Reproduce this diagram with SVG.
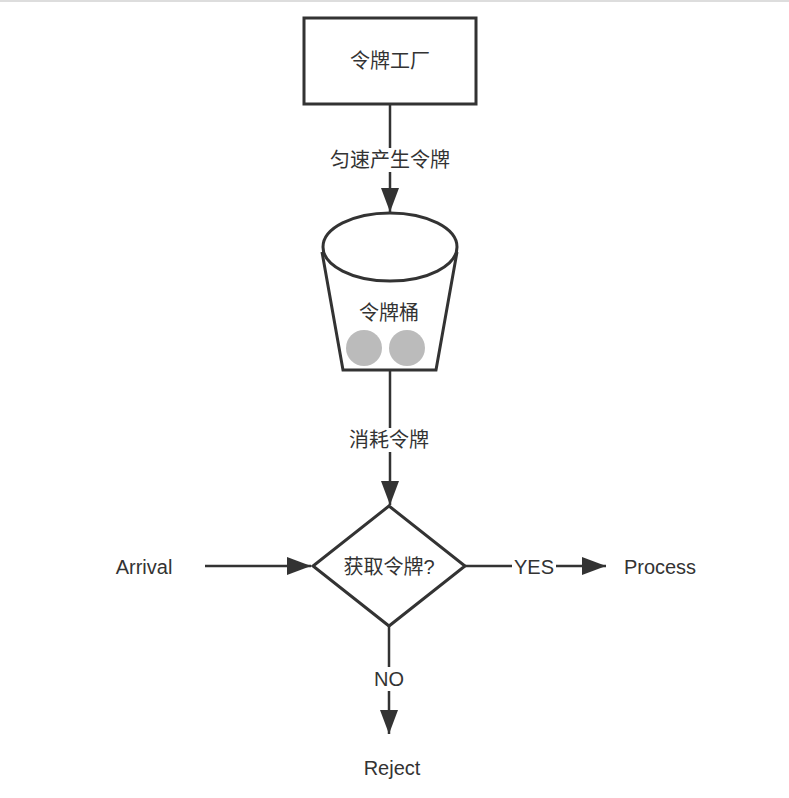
<svg xmlns="http://www.w3.org/2000/svg" width="789" height="798" viewBox="0 0 789 798">
<style>
.s{fill:none;stroke:#333;stroke-width:3}
.t{font-family:"Liberation Sans","Noto Sans CJK SC",sans-serif;font-size:20px;fill:#333;text-anchor:middle;dominant-baseline:central}
.l{fill:none;stroke:#333;stroke-width:2.5}
</style>
<defs><marker id="a" markerWidth="10" markerHeight="10" refX="9" refY="5" orient="auto" markerUnits="userSpaceOnUse" viewBox="0 0 10 10"><path d="M0,0 L10,5 L0,10 Z" fill="#333"/></marker>
<marker id="b" viewBox="0 0 24 18" refX="24" refY="9" markerWidth="24" markerHeight="18" orient="auto" markerUnits="userSpaceOnUse"><path d="M0,0 L24,9 L0,18 Z" fill="#333"/></marker></defs>
<rect width="789" height="798" fill="#fff"/>
<line x1="0" y1="1" x2="789" y2="1" stroke="#ddd" stroke-width="2"/>
<g id="connectors">
<line class="l" x1="390" y1="104" x2="390" y2="212" marker-end="url(#b)"/>
<rect x="332" y="148" width="116" height="24" fill="#fff"/>
<text class="t" x="390" y="160">匀速产生令牌</text>
<line class="l" x1="390" y1="370" x2="390" y2="505" marker-end="url(#b)"/>
<rect x="340" y="428" width="100" height="24" fill="#fff"/>
<text class="t" x="389" y="440">消耗令牌</text>
<line class="l" x1="205" y1="566" x2="311" y2="566" marker-end="url(#b)"/>
<line class="l" x1="465" y1="566" x2="512" y2="566"/>
<text class="t" x="534" y="567">YES</text>
<line class="l" x1="556" y1="566" x2="606" y2="566" marker-end="url(#b)"/>
<line class="l" x1="389" y1="626" x2="389" y2="734" marker-end="url(#b)"/>
<rect x="370" y="667" width="38" height="24" fill="#fff"/>
<text class="t" x="389" y="679">NO</text>
</g>
<g id="factory"><rect class="s" x="304" y="18" width="172" height="86"/><text class="t" x="390" y="61">令牌工厂</text></g>
<g id="bucket">
<path class="s" d="M322,252 L343,370 L436,370 L457,252"/>
<ellipse class="s" cx="390" cy="247" rx="67" ry="34" fill="#fff"/>
<text class="t" x="389" y="313">令牌桶</text>
<circle cx="364" cy="348" r="18" fill="#bbb"/>
<circle cx="407" cy="348" r="18" fill="#bbb"/>
</g>
<g id="decision"><path class="s" d="M389,506 L465,566 L389,626 L313,566 Z" fill="#fff"/><text class="t" x="389" y="567">获取令牌?</text></g>
<g id="arrival"><text class="t" x="144" y="567">Arrival</text></g>
<g id="process"><text class="t" x="660" y="567">Process</text></g>
<g id="reject"><text class="t" x="392" y="768">Reject</text></g>
</svg>
